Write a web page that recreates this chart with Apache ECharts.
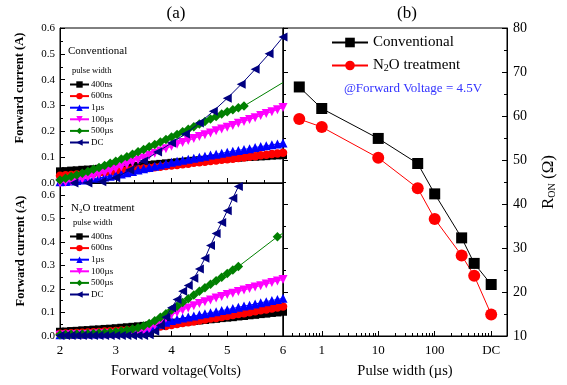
<!DOCTYPE html>
<html><head><meta charset="utf-8">
<script src="https://cdn.jsdelivr.net/npm/echarts@6/dist/echarts.min.js"></script>
<style>html,body{margin:0;padding:0;background:#fff}#c{width:567px;height:385px}</style>
</head><body><div id="c"></div>
<script>
const FONT = "'Liberation Serif','Times New Roman',serif";

// ---------- (a) forward I-V, voltage sweep (V) ----------
const voltage = [2.0,2.1,2.2,2.3,2.4,2.5,2.6,2.7,2.8,2.9,
                 3.0,3.1,3.2,3.3,3.4,3.5,3.6,3.7,3.8,3.9,
                 4.0,4.1,4.2,4.3,4.4,4.5,4.6,4.7,4.8,4.9,
                 5.0,5.1,5.2,5.3,5.4,5.5,5.6,5.7,5.8,5.9,6.0];
const pulseNames = ['400ns','600ns','1µs','100µs','500µs','DC'];

// Conventional (A)
const conv400ns = [.045,.046,.048,.049,.051,.052,.053,.055,.056,.058,
                   .059,.061,.063,.064,.066,.068,.070,.072,.074,.076,
                   .078,.080,.082,.084,.086,.088,.090,.091,.093,.094,
                   .096,.097,.098,.100,.101,.102,.103,.104,.106,.107,.108];
const conv600ns = [.028,.030,.031,.033,.034,.036,.038,.040,.041,.043,
                   .045,.047,.049,.052,.054,.056,.058,.061,.063,.066,
                   .068,.070,.073,.075,.078,.080,.082,.085,.087,.090,
                   .092,.094,.097,.099,.102,.104,.107,.109,.112,.114,.117];
const conv1us   = [.005,.006,.008,.010,.012,.014,.017,.020,.023,.026,
                   .030,.035,.040,.045,.050,.055,.060,.065,.070,.075,
                   .080,.084,.088,.092,.096,.100,.104,.108,.111,.115,
                   .119,.123,.126,.130,.133,.137,.141,.144,.148,.151,.155];
const conv100us = [.000,.003,.007,.011,.015,.020,.026,.033,.040,.047,
                   .055,.063,.072,.080,.089,.097,.106,.115,.124,.133,
                   .142,.150,.157,.165,.172,.180,.187,.194,.202,.209,
                   .216,.223,.231,.238,.246,.253,.261,.269,.276,.284,.292];
const conv500us = [.012,.018,.025,.031,.038,.045,.053,.060,.068,.076,
                   .084,.093,.102,.111,.121,.130,.140,.149,.159,.168,
                   .178,.188,.198,.208,.218,.228,.238,.248,.257,.267,
                   .276,.284,.291,.298,null,null,null,null,null,null,.389];
const convDCvoltage = [2.25,2.5,2.75,3.0,3.25,3.5,3.75,4.0,4.25,4.5,4.75,5.0,5.25,5.5,5.75,6.0];
const convDC        = [0.0,0.0,0.005,0.02,0.05,0.085,0.12,0.155,0.19,0.232,0.278,0.328,0.382,0.44,0.5,0.565];

// N2O treatment (A)
const n2o400ns = [.018,.019,.021,.022,.024,.025,.027,.028,.030,.031,
                  .033,.035,.037,.039,.041,.043,.045,.048,.050,.053,
                  .055,.057,.059,.062,.064,.066,.068,.071,.073,.076,
                  .078,.080,.083,.085,.088,.090,.093,.095,.098,.100,.103];
const n2o600ns = [.010,.011,.012,.013,.014,.015,.016,.017,.019,.020,
                  .021,.023,.024,.026,.028,.030,.033,.036,.040,.043,
                  .047,.051,.055,.058,.062,.066,.070,.074,.077,.081,
                  .085,.089,.093,.097,.101,.105,.109,.113,.117,.121,.125];
const n2o1us   = [.005,.006,.006,.007,.007,.008,.009,.009,.010,.011,
                  .012,.014,.016,.019,.022,.025,.032,.040,.050,.058,
                  .066,.071,.076,.081,.085,.090,.094,.099,.103,.108,
                  .112,.117,.122,.127,.131,.136,.141,.146,.151,.155,.160];
const n2o100us = [.003,.004,.004,.005,.005,.006,.007,.008,.008,.009,
                  .010,.012,.014,.016,.018,.020,.030,.045,.060,.075,
                  .090,.100,.110,.119,.129,.138,.146,.153,.161,.168,
                  .176,.182,.189,.195,.202,.208,.214,.221,.227,.234,.240];
const n2o500us = [.005,.006,.007,.008,.009,.010,.011,.013,.014,.016,
                  .018,.021,.025,.030,.035,.042,.053,.065,.080,.095,
                  .110,.126,.142,.158,.174,.190,.205,.220,.235,.250,
                  .265,.280,.295,null,null,null,null,null,null,.422,.437];
const n2oDC    = [.002,.002,.002,.002,.002,.002,.002,.002,.002,.002,
                  .002,.002,.002,.002,.002,.002,.005,.020,.045,.080,
                  .120,.155,.190,.215,.245,.285,.330,.385,.435,.482,
                  .532,.585,.635];

// ---------- (b) R_ON vs pulse width ----------
const pulseWidthUs    = [0.4, 1, 10, 50, 100, 300, 500, 1000];
const ronConventional = [66.6, 61.7, 54.9, 49.2, 42.3, 32.3, 26.5, 21.7];
const ronN2O          = [59.3, 57.5, 50.5, 43.6, 36.6, 28.3, 23.7, 14.9];
const pulseMinorTicks = [0.3,0.4,0.5,0.6,0.7,0.8,0.9,2,3,4,5,6,7,8,9,20,30,40,50,60,70,80,90,
                         200,300,400,500,600,700,800,900];
const pulseMin = 0.206, pulseMax = 1905;

const colors  = ['#000000','#ff0000','#0000ff','#ff00ff','#008000','#000080'];
const symbols = ['rect','circle','triangle','triangle','diamond','triangle'];
const rotates = [0,0,0,180,0,90];
const sizes   = [8,8.5,9,9,9.5,9];

function buildPoints(xs, ys, lastNoSymbol) {
  const pts = [];
  for (let i = 0; i < ys.length; i++) if (ys[i] !== null && ys[i] !== undefined) pts.push([xs[i], ys[i]]);
  if (lastNoSymbol) pts[pts.length - 1] = { value: pts[pts.length - 1], symbol: 'none' };
  return pts;
}
function ivSeries(k, g, xs, ys, lastNoSymbol) {
  return {
    type: 'line', name: pulseNames[k], xAxisIndex: g, yAxisIndex: g,
    data: buildPoints(xs, ys, lastNoSymbol),
    symbol: symbols[k], symbolSize: sizes[k], symbolRotate: rotates[k],
    itemStyle: { color: colors[k] }, lineStyle: { color: colors[k], width: 1 },
    z: 2 + k, animation: false
  };
}

const series = [
  ivSeries(0, 0, voltage, conv400ns), ivSeries(1, 0, voltage, conv600ns),
  ivSeries(2, 0, voltage, conv1us),   ivSeries(3, 0, voltage, conv100us),
  ivSeries(4, 0, voltage, conv500us, true), ivSeries(5, 0, convDCvoltage, convDC),
  ivSeries(0, 1, voltage, n2o400ns), ivSeries(1, 1, voltage, n2o600ns),
  ivSeries(2, 1, voltage, n2o1us),   ivSeries(3, 1, voltage, n2o100us),
  ivSeries(4, 1, voltage, n2o500us, true), ivSeries(5, 1, voltage, n2oDC),
  { type: 'line', name: 'Conventional', xAxisIndex: 2, yAxisIndex: 2,
    data: pulseWidthUs.map((p, i) => [p, ronConventional[i]]),
    symbol: 'rect', symbolSize: 11, itemStyle: { color: '#000' }, lineStyle: { color: '#000', width: 1 } },
  { type: 'line', name: 'N2O treatment', xAxisIndex: 2, yAxisIndex: 2,
    data: pulseWidthUs.map((p, i) => [p, ronN2O[i]]),
    symbol: 'circle', symbolSize: 12, itemStyle: { color: '#ff0000' }, lineStyle: { color: '#ff0000', width: 1 } }
];

const axLine = { show: true, onZero: false, lineStyle: { color: '#000', width: 1 } };

function leftLegend(top) {
  return {
    data: pulseNames, orient: 'vertical', left: 69, top: top, padding: 0,
    itemWidth: 19, itemHeight: 8, itemGap: 2.6, selectedMode: false,
    textStyle: { fontFamily: FONT, fontSize: 9, color: '#000', padding: [0, 0, 0, -3] }
  };
}

const option = {
  animation: false,
  backgroundColor: '#fff',
  grid: [
    { left: 60, top: 28, width: 223, height: 155, show: true, borderColor: '#000', borderWidth: 1 },
    { left: 60, top: 183, width: 223, height: 153, show: true, borderColor: '#000', borderWidth: 1 },
    { left: 283, top: 28, width: 224, height: 308, show: true, borderColor: '#000', borderWidth: 1 }
  ],
  xAxis: [
    { gridIndex: 0, type: 'value', min: 2, max: 6, interval: 1, axisLine: axLine,
      axisTick: { inside: true, length: 5, lineStyle: { color: '#000' } },
      minorTick: { show: true, splitNumber: 3, length: 3, lineStyle: { color: '#000' } },
      axisLabel: { show: false }, splitLine: { show: false } },
    { gridIndex: 1, type: 'value', min: 2, max: 6, interval: 1, axisLine: axLine,
      axisTick: { inside: true, length: 5, lineStyle: { color: '#000' } },
      minorTick: { show: true, splitNumber: 3, length: 3, lineStyle: { color: '#000' } },
      axisLabel: { fontFamily: FONT, fontSize: 13, color: '#000', margin: 8 }, splitLine: { show: false } },
    { gridIndex: 2, type: 'log', logBase: 10, min: pulseMin, max: pulseMax, axisLine: axLine,
      axisTick: { inside: true, length: 5, lineStyle: { color: '#000' } },
      axisLabel: { fontFamily: FONT, fontSize: 13, color: '#000', margin: 8, showMinLabel: false, showMaxLabel: false,
        formatter: v => { const e = Math.log10(v); if (Math.abs(e - Math.round(e)) > 1e-6) return ''; return Math.round(v) === 1000 ? 'DC' : String(Math.round(v)); } },
      splitLine: { show: false } },
    { gridIndex: 2, type: 'value', position: 'bottom', min: Math.log10(pulseMin), max: Math.log10(pulseMax),
      axisLine: { show: false, onZero: false },
      axisTick: { show: true, inside: true, length: 3, lineStyle: { color: '#000' }, customValues: pulseMinorTicks.map(Math.log10) },
      axisLabel: { show: false }, splitLine: { show: false } }
  ],
  yAxis: [
    { gridIndex: 0, type: 'value', min: 0, max: 0.6, interval: 0.1, axisLine: axLine,
      axisTick: { inside: true, length: 5, lineStyle: { color: '#000' } },
      minorTick: { show: true, splitNumber: 2, length: 3, lineStyle: { color: '#000' } },
      axisLabel: { fontFamily: FONT, fontSize: 11, color: '#000', margin: 5, formatter: v => v.toFixed(1) },
      splitLine: { show: false } },
    { gridIndex: 1, type: 'value', min: 0, max: 0.65, interval: 0.1, axisLine: axLine,
      axisTick: { inside: true, length: 5, lineStyle: { color: '#000' } },
      minorTick: { show: true, splitNumber: 2, length: 3, lineStyle: { color: '#000' } },
      axisLabel: { fontFamily: FONT, fontSize: 11, color: '#000', margin: 5, showMaxLabel: false, formatter: v => v.toFixed(1) },
      splitLine: { show: false } },
    { gridIndex: 2, type: 'value', position: 'right', min: 10, max: 80, interval: 10, axisLine: axLine,
      axisTick: { inside: true, length: 5, lineStyle: { color: '#000' } },
      minorTick: { show: true, splitNumber: 2, length: 3, lineStyle: { color: '#000' } },
      axisLabel: { fontFamily: FONT, fontSize: 14, color: '#000', margin: 6 },
      name: 'R{s|ON} (Ω)', nameLocation: 'middle', nameRotate: 90, nameGap: 33,
      nameTextStyle: { fontFamily: FONT, fontSize: 17, color: '#000',
        rich: { s: { fontFamily: FONT, fontSize: 10, verticalAlign: 'bottom', lineHeight: 10, color: '#000' } } },
      splitLine: { show: false } },
    { gridIndex: 2, type: 'value', position: 'left', min: 10, max: 80, interval: 10, axisLine: axLine,
      axisTick: { inside: true, length: 5, lineStyle: { color: '#000' } },
      minorTick: { show: true, splitNumber: 2, length: 3, lineStyle: { color: '#000' } },
      axisLabel: { show: false }, splitLine: { show: false } }
  ],
  legend: [
    leftLegend(80),
    leftLegend(232),
    { data: ['Conventional', 'N2O treatment'], orient: 'vertical', left: 331, top: 35, padding: 0,
      itemWidth: 36, itemHeight: 12, itemGap: 8, selectedMode: false,
      formatter: n => n === 'N2O treatment' ? '{n|N}{s|2}{n|O treatment}' : '{n|' + n + '}',
      textStyle: { fontFamily: FONT, fontSize: 15, color: '#000',
        rich: { n: { fontFamily: FONT, fontSize: 15, lineHeight: 16, color: '#000' },
                s: { fontFamily: FONT, fontSize: 10, lineHeight: 10, verticalAlign: 'bottom', color: '#000' } } } }
  ],
  graphic: [
    { type: 'text', x: 176, y: 14, style: { text: '(a)', font: '17px ' + FONT, fill: '#000', align: 'center', verticalAlign: 'middle' } },
    { type: 'text', x: 407, y: 14, style: { text: '(b)', font: '17px ' + FONT, fill: '#000', align: 'center', verticalAlign: 'middle' } },
    { type: 'text', x: 68, y: 51, style: { text: 'Conventional', font: '11px ' + FONT, fill: '#000', verticalAlign: 'middle' } },
    { type: 'text', x: 72, y: 71, style: { text: 'pulse width', font: '8.5px ' + FONT, fill: '#000', verticalAlign: 'middle' } },
    { type: 'text', x: 71, y: 208, style: { text: '{a|N}{b|2}{a|O treatment}', fill: '#000', verticalAlign: 'middle',
        rich: { a: { fontFamily: FONT, fontSize: 11, lineHeight: 13 }, b: { fontFamily: FONT, fontSize: 7, lineHeight: 7, verticalAlign: 'bottom' } } } },
    { type: 'text', x: 73, y: 223, style: { text: 'pulse width', font: '8.5px ' + FONT, fill: '#000', verticalAlign: 'middle' } },
    { type: 'text', x: 413, y: 89, style: { text: '@Forward Voltage = 4.5V', font: '13px ' + FONT, fill: '#3333ff', align: 'center', verticalAlign: 'middle' } },
    { type: 'text', x: 20, y: 88, rotation: Math.PI / 2, style: { text: 'Forward current (A)', font: 'bold 12.5px ' + FONT, fill: '#000', align: 'center', verticalAlign: 'middle' } },
    { type: 'text', x: 21, y: 251, rotation: Math.PI / 2, style: { text: 'Forward current (A)', font: 'bold 12.5px ' + FONT, fill: '#000', align: 'center', verticalAlign: 'middle' } },
    { type: 'text', x: 176, y: 371, style: { text: 'Forward voltage(Volts)', font: '14px ' + FONT, fill: '#000', align: 'center', verticalAlign: 'middle' } },
    { type: 'text', x: 405, y: 371, style: { text: 'Pulse width (µs)', font: '14.5px ' + FONT, fill: '#000', align: 'center', verticalAlign: 'middle' } }
  ],
  series: series
};

const chart = echarts.init(document.getElementById('c'), null, { renderer: 'canvas' });
chart.setOption(option);
</script>
</body></html>
